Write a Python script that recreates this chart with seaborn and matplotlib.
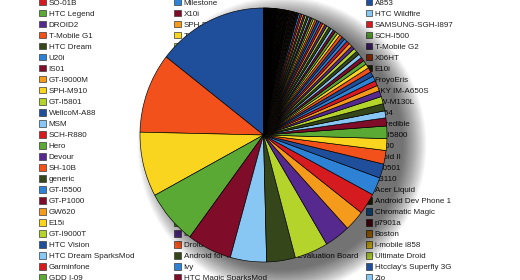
import matplotlib
matplotlib.use("Agg")
import numpy as np
import pandas as pd
import seaborn as sns
import matplotlib.pyplot as plt
from matplotlib.patches import Patch, Ellipse

sns.set_theme(style="white")
plt.rcParams['font.family'] = ['Liberation Sans', 'DejaVu Sans']

# ---- data -------------------------------------------------------------
# slice sizes (share units), in drawing order from 12 o'clock, counter-clockwise
share_units = [520, 366, 296, 250, 210, 170, 135, 158, 120, 95, 97, 82,
               65, 62, 54, 57, 37, 32, 33, 33, 28, 25,
               24, 23, 22, 21, 20, 19, 18, 18, 17, 17, 16, 16, 15, 15, 14,
               14, 13, 13, 12, 12, 12, 11, 11, 11, 10, 10, 10, 9, 9, 9,
               8, 8, 8, 8, 8, 8, 8, 8,
               3, 3, 3, 3, 3, 3, 3, 3, 3, 3, 3, 3, 3, 3, 3,
               2, 2, 2, 2, 2, 2, 2, 2, 2, 2, 2, 2, 2, 2, 2,
               2, 2, 2, 2, 2, 2, 2, 2, 2, 2, 2, 2, 2, 2, 2,
               1, 1, 1, 1, 1, 1, 1, 1, 1, 1, 1, 1, 1, 1, 1, 1, 1, 1, 1, 1,
               1, 1, 1, 1, 1, 1, 1, 1, 1, 1, 1, 1, 1, 1, 1, 1, 1, 1, 1, 1,
               1, 1, 1, 1, 1, 1, 1, 1, 1, 1, 1, 1, 1, 1, 1, 1, 1, 1, 1, 1]

legend_col1 = ["SO-01B", "HTC Legend", "DROID2", "T-Mobile G1", "HTC Dream",
               "U20i", "IS01", "GT-I9000M", "SPH-M910", "GT-I5801",
               "WellcoM-A88", "MSM", "SCH-R880", "Hero", "Devour", "SH-10B",
               "generic", "GT-I5500", "GT-P1000", "GW620", "E15i", "GT-I9000T",
               "HTC Vision", "HTC Dream SparksMod", "Garminfone", "GDD I-09"]
legend_col2 = ["Milestone", "X10i", "SPH-D700", "T-Mobile myTouch 3G", "HTC Aria",
               "Nexus One", "HTC Desire", "Droid", "DROIDX", "GT-I9000",
               "HTC Magic", "Sprint APA9292KT", "HTC Desire HD", "Xperia X10",
               "LG-P500", "HTC Incredible S", "SGH-T959", "Droid Pro",
               "Desire Z", "ADR6300", "PC36100", "IS03", "Droid Eris",
               "Android for Telechips TCC8900 Evaluation Board", "Ivy",
               "HTC Magic SparksMod"]
legend_col3 = ["A853", "HTC Wildfire", "SAMSUNG-SGH-I897", "SCH-I500",
               "T-Mobile G2", "X06HT", "E10i", "FroyoEris", "SKY IM-A650S",
               "HW-M130L", "A854", "Incredible", "GT-I5800", "M900", "Droid II",
               "IS0501", "E3110", "Acer Liquid", "Android Dev Phone 1",
               "Chromatic Magic", "p7901a", "Boston", "i-mobile i858",
               "Ultimate Droid", "Htcclay's Superfly 3G", "Zio"]

# ---- styling ------------------------------------------------------------
pie_cycle = sns.color_palette(["#1f4e9b", "#f2511b", "#fad51f", "#5aa934",
                               "#7f0c28", "#88c6f4", "#34461a", "#b4d42b",
                               "#56298f", "#f49b1c", "#d51b20", "#2d82d5"])
legend_cycle_idx = [10, 3, 8, 1, 6, 11, 4, 9, 2, 7, 0, 5]
legend_starts = [0, 5, 10]
legend_x_px = [39.3, 174.3, 365.5]

W, H = 520, 280
fig = plt.figure(figsize=(W / 100, H / 100), dpi=100)
fig.patch.set_facecolor("white")

# legends (drawn beneath the pie)
for labels, start, xpx in zip([legend_col1, legend_col2, legend_col3],
                              legend_starts, legend_x_px):
    handles = [Patch(facecolor=pie_cycle[legend_cycle_idx[(start + r) % 12]],
                     edgecolor="#3a3a3a", linewidth=0.5)
               for r in range(len(labels))]
    leg = fig.legend(handles, labels, loc="upper left",
                     bbox_to_anchor=(xpx / W, 1.004), frameon=False,
                     fontsize=5.8, handlelength=0.85, handleheight=0.85,
                     handletextpad=0.3, labelspacing=0.375, borderpad=0,
                     borderaxespad=0, labelcolor="#222222")
    leg.set_zorder(-1)

# pie axes
ax = fig.add_axes([140 / W, 18 / H, 247 / W, 254 / H])
ax.patch.set_alpha(0)

# soft drop shadow
n_sh = 30
for i in range(n_sh):
    r = 0.98 + 0.19 * i / (n_sh - 1)
    ax.add_patch(Ellipse((0.15, -0.08), 2 * r, 2 * r, facecolor="black",
                         edgecolor="none", alpha=0.025, clip_on=False, zorder=0.5))

colors = [pie_cycle[i % 12] for i in range(len(share_units))]
ax.pie(share_units, colors=colors, startangle=90, counterclock=True,
       wedgeprops=dict(edgecolor="black", linewidth=0.45))
ax.set_aspect("auto")
ax.set_xlim(-1, 1)
ax.set_ylim(-1, 1)
ax.axis("off")

fig.savefig("out.png", dpi=100)
